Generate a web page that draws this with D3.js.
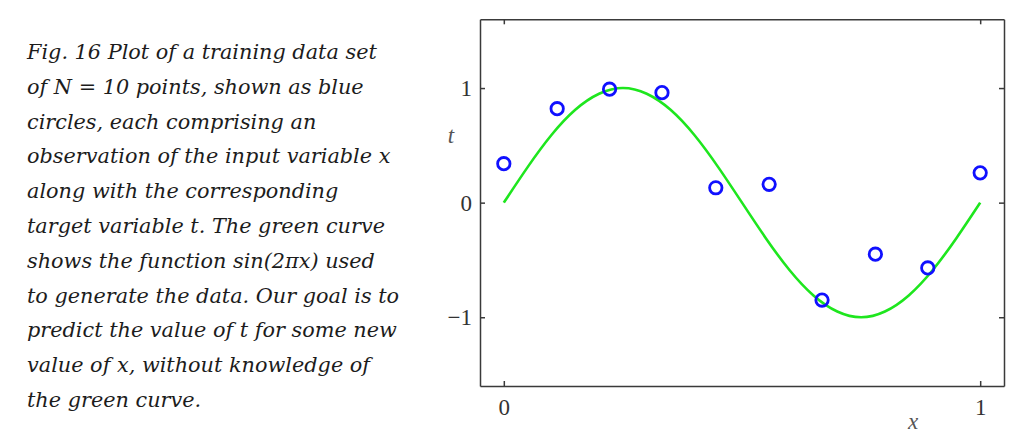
<!DOCTYPE html>
<html>
<head>
<meta charset="utf-8">
<script src="https://cdnjs.cloudflare.com/ajax/libs/d3/7.8.5/d3.min.js"></script>
<style>
  body { margin: 0; background: #fff; }
  .caption text { font-family: "DejaVu Serif", serif; font-style: italic; font-size: 20.8px; fill: #1c1c1c; }
  .axis text { font-family: "Liberation Serif", serif; font-size: 23px; fill: #333; }
  .axis path, .axis line { stroke: #3a3a3a; stroke-width: 1.5; }
</style>
</head>
<body>
<svg id="fig" width="1027" height="448"></svg>
<script>
// caption lines
var captionLines = [
  "Fig. 16 Plot of a training data set",
  "of N = 10 points, shown as blue",
  "circles, each comprising an",
  "observation of the input variable x",
  "along with the corresponding",
  "target variable t. The green curve",
  "shows the function sin(2\u03c0x) used",
  "to generate the data. Our goal is to",
  "predict the value of t for some new",
  "value of x, without knowledge of",
  "the green curve."
];

// training points (blue circles)
var pointX = [0, 0.112, 0.222, 0.332, 0.445, 0.557, 0.668, 0.780, 0.890, 1];
var pointT = [0.34, 0.82, 0.99, 0.96, 0.13, 0.16, -0.85, -0.45, -0.57, 0.26];

// green curve
var curveX = [0, 0.05, 0.1, 0.15, 0.2, 0.25, 0.3, 0.35, 0.4, 0.45, 0.5,
              0.55, 0.6, 0.65, 0.7, 0.75, 0.8, 0.85, 0.9, 0.95, 1];
var curveT = [0, 0.31, 0.59, 0.81, 0.95, 1.0, 0.95, 0.81, 0.59, 0.31, 0,
              -0.31, -0.59, -0.81, -0.95, -1.0, -0.95, -0.81, -0.59, -0.31, 0];

var xTicks = [0, 1];
var yTicks = [-1, 0, 1];

var svg = d3.select("#fig");

svg.append("g").attr("class", "caption")
  .selectAll("text")
  .data(captionLines)
  .enter().append("text")
  .attr("x", 27)
  .attr("y", function(d, i) { return 59 + i * 34.8; })
  .text(function(d) { return d; });

var x = d3.scaleLinear().domain([-0.05, 1.05]).range([480, 1004]);
var y = d3.scaleLinear().domain([-1.6, 1.6]).range([386, 19.3]);

var fmt = function(d) { return d < 0 ? "\u2212" + Math.abs(d) : String(d); };

svg.append("g").attr("class", "axis")
  .attr("transform", "translate(0,386)")
  .call(d3.axisBottom(x).tickValues(xTicks).tickSize(-5).tickSizeOuter(0).tickPadding(13).tickFormat(fmt));
svg.append("g").attr("class", "axis")
  .attr("transform", "translate(0,19.3)")
  .call(d3.axisTop(x).tickValues(xTicks).tickSize(-5).tickSizeOuter(0).tickFormat(""));
svg.append("g").attr("class", "axis")
  .attr("transform", "translate(480,0)")
  .call(d3.axisLeft(y).tickValues(yTicks).tickSize(-5).tickSizeOuter(0).tickPadding(8).tickFormat(fmt));
svg.append("g").attr("class", "axis")
  .attr("transform", "translate(1004,0)")
  .call(d3.axisRight(y).tickValues(yTicks).tickSize(-5).tickSizeOuter(0).tickFormat(""));

svg.selectAll(".axis .domain").attr("fill", "none");

// axis labels
svg.append("text")
  .attr("x", 451).attr("y", 143)
  .attr("text-anchor", "middle")
  .style("font-family", "Liberation Serif, serif").style("font-style", "italic")
  .style("font-size", "23px").style("fill", "#555")
  .text("t");
svg.append("text")
  .attr("x", 913).attr("y", 429)
  .attr("text-anchor", "middle")
  .style("font-family", "Liberation Serif, serif").style("font-style", "italic")
  .style("font-size", "23px").style("fill", "#555")
  .text("x");

var line = d3.line()
  .x(function(d, i) { return x(curveX[i]); })
  .y(function(d) { return y(d); })
  .curve(d3.curveNatural);

svg.append("path")
  .datum(curveT)
  .attr("d", line)
  .attr("fill", "none")
  .attr("stroke", "#1ee61e")
  .attr("stroke-width", 2.6);

svg.append("g").selectAll("circle")
  .data(pointT)
  .enter().append("circle")
  .attr("cx", function(d, i) { return x(pointX[i]); })
  .attr("cy", function(d) { return y(d); })
  .attr("r", 6.2)
  .attr("fill", "none")
  .attr("stroke", "#1010ff")
  .attr("stroke-width", 2.8);
</script>
</body>
</html>
